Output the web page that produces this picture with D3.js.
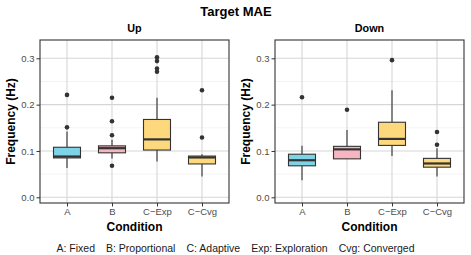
<!DOCTYPE html>
<html><head><meta charset="utf-8">
<script src="https://cdn.jsdelivr.net/npm/d3@7"></script>
<style>body{margin:0;background:#fff}svg text{font-family:"Liberation Sans",Arial,sans-serif}</style>
</head><body>
<svg id="c" width="471" height="255"></svg>
<script>
const categories = ["A","B","C\u2212Exp","C\u2212Cvg"];
const panels = ["Up","Down"];
const fills = ["#7fd3e6","#f6b5c1","#fdd87c","#fdd87c"];
// [lowWhisker, q1, median, q3, highWhisker]
const upStats = [
  [0.063,0.085,0.088,0.108,0.142],
  [0.084,0.096,0.106,0.111,0.124],
  [0.077,0.102,0.125,0.168,0.215],
  [0.045,0.072,0.086,0.089,0.093]
];
const upOutliers = [
  [0.221,0.151],
  [0.215,0.164,0.134,0.068],
  [0.302,0.294,0.278,0.271],
  [0.231,0.129]
];
const downStats = [
  [0.037,0.068,0.080,0.093,0.111],
  [0.083,0.083,0.1035,0.110,0.145],
  [0.089,0.112,0.126,0.162,0.231],
  [0.045,0.065,0.073,0.084,0.106]
];
const downOutliers = [
  [0.216],
  [0.189],
  [0.296],
  [0.141,0.1135]
];
const yTicks = [0.0,0.1,0.2,0.3];
const yMinor = [0.05,0.15,0.25];
const captionItems = ["A: Fixed","B: Proportional","C: Adaptive","Exp: Exploration","Cvg: Converged"];

const svg = d3.select("#c");
svg.append("text").attr("x",236).attr("y",16).attr("text-anchor","middle")
  .attr("font-size",13).attr("font-weight","bold").text("Target MAE");

const y = d3.scaleLinear().domain([-0.0123,0.3395]).range([203,40]);
const panelX = [[40,229],[275,464]];
const stats = [upStats, downStats];
const outs = [upOutliers, downOutliers];
const FF = "Liberation Sans, Arial, sans-serif";

panels.forEach((p,pi)=>{
  const [x0,x1] = panelX[pi];
  const x = d3.scalePoint().domain(categories).range([x0,x1]).padding(0.6);
  const bw = x.step()*0.6;
  const g = svg.append("g");
  g.selectAll(".mn").data(yMinor).join("line").attr("x1",x0).attr("x2",x1)
    .attr("y1",d=>y(d)).attr("y2",d=>y(d)).attr("stroke","#ebebeb").attr("stroke-width",0.6);
  g.selectAll(".mj").data(yTicks).join("line").attr("x1",x0).attr("x2",x1)
    .attr("y1",d=>y(d)).attr("y2",d=>y(d)).attr("stroke","#d6d6d6").attr("stroke-width",1.1);
  g.selectAll(".vx").data(categories).join("line").attr("x1",d=>x(d)).attr("x2",d=>x(d))
    .attr("y1",40).attr("y2",203).attr("stroke","#d6d6d6").attr("stroke-width",1.1);
  categories.forEach((c,i)=>{
    const s = stats[pi][i], cx = x(c);
    g.append("line").attr("x1",cx).attr("x2",cx).attr("y1",y(s[0])).attr("y2",y(s[1]))
      .attr("stroke","#333").attr("stroke-width",1.1);
    g.append("line").attr("x1",cx).attr("x2",cx).attr("y1",y(s[3])).attr("y2",y(s[4]))
      .attr("stroke","#333").attr("stroke-width",1.1);
    g.append("rect").attr("x",cx-bw/2).attr("width",bw).attr("y",y(s[3]))
      .attr("height",y(s[1])-y(s[3])).attr("fill",fills[i]).attr("stroke","#333").attr("stroke-width",1.1);
    g.append("line").attr("x1",cx-bw/2).attr("x2",cx+bw/2).attr("y1",y(s[2])).attr("y2",y(s[2]))
      .attr("stroke","#333").attr("stroke-width",2.2);
    g.selectAll(null).data(outs[pi][i]).join("circle").attr("cx",cx).attr("cy",d=>y(d))
      .attr("r",2.3).attr("fill","#333");
  });
  g.append("rect").attr("x",x0).attr("y",40).attr("width",x1-x0).attr("height",163)
    .attr("fill","none").attr("stroke","#333").attr("stroke-width",1.1);
  const ya = g.append("g").attr("transform",`translate(${x0},0)`)
    .call(d3.axisLeft(y).tickValues(yTicks).tickFormat(d3.format(".1f")).tickSize(3.5).tickPadding(2));
  ya.select(".domain").remove();
  ya.selectAll("line").attr("stroke","#333");
  ya.selectAll("text").attr("font-size",9.5).attr("fill","#4d4d4d").attr("font-family",FF);
  const xa = g.append("g").attr("transform","translate(0,203)")
    .call(d3.axisBottom(x).tickSize(3.5).tickPadding(2));
  xa.select(".domain").remove();
  xa.selectAll("line").attr("stroke","#333");
  xa.selectAll("text").attr("font-size",9.5).attr("fill","#4d4d4d").attr("font-family",FF);
  g.append("text").attr("x",(x0+x1)/2).attr("y",31.5).attr("text-anchor","middle")
    .attr("font-size",10.8).attr("font-weight","bold").text(p);
  g.append("text").attr("x",(x0+x1)/2).attr("y",231).attr("text-anchor","middle")
    .attr("font-size",12).attr("font-weight","bold").text("Condition");
  g.append("text").attr("transform",`translate(${x0-25},121.5) rotate(-90)`).attr("text-anchor","middle")
    .attr("font-size",12).attr("font-weight","bold").text("Frequency (Hz)");
});
// caption
const cap = svg.append("g");
const items = cap.selectAll("text").data(captionItems).join("text")
  .attr("y",251.5).attr("font-size",10.5).attr("fill","#1a1a1a").text(d=>d);
const widths = items.nodes().map(n=>n.getComputedTextLength());
const gap = 11;
const total = d3.sum(widths) + gap*(widths.length-1);
let cx = 235.5 - total/2;
items.each(function(d,i){ d3.select(this).attr("x",cx); cx += widths[i]+gap; });
</script>
</body></html>
